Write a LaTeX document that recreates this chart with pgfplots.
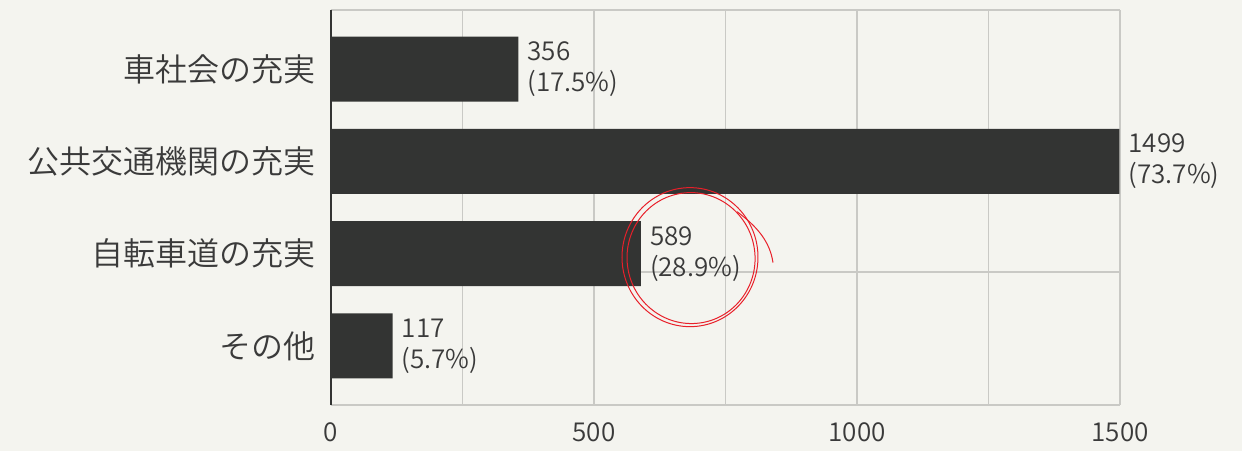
\documentclass[border=0pt]{standalone}
\usepackage{pgfplots}
\pgfplotsset{compat=1.18}
\usepackage{fontspec}
\setmainfont{Noto Sans CJK JP}[UprightFont={* DemiLight}]
\definecolor{bg}{HTML}{F4F4EF}
\definecolor{barc}{HTML}{333433}
\definecolor{gridc}{HTML}{C9C9C5}
\definecolor{txt}{HTML}{3A3A3A}
\definecolor{pen}{HTML}{E8202A}
\begin{document}
\begin{tikzpicture}[x=1pt,y=1pt]
\fill[bg] (0,0) rectangle (1242,451);
\useasboundingbox (0,0) rectangle (1242,451);
\begin{axis}[
  at={(331pt,46pt)}, anchor=south west,
  width=789pt, height=395pt, scale only axis,
  xbar, bar width=65pt,
  xmin=0, xmax=1500, ymin=-0.64, ymax=3.64,
  axis x line*=box, axis y line*=left,
  xtick={0,500,1000,1500}, minor xtick={250,750,1250},
  xmajorgrids, xminorgrids,
  major grid style={gridc, line width=1.3pt},
  minor grid style={gridc, line width=1.3pt},
  ytick={0,1,2,3},
  yticklabels={その他,自転車道の充実,公共交通機関の充実,車社会の充実},
  major tick length=0pt, minor tick length=0pt,
  x axis line style={gridc, line width=1.3pt, -},
  y axis line style={barc, line width=2.4pt, -},
  tick label style={text=txt},
  xticklabel style={font=\fontsize{26}{30}\selectfont, yshift=-14pt},
  yticklabel style={font=\fontsize{32}{36}\selectfont, xshift=-12pt},
  /pgf/number format/assume math mode=true,
  /pgf/number format/1000 sep={},
  extra y ticks={0.8}, extra y tick labels={},
  extra y tick style={grid=major},
  nodes near coords, point meta=explicit symbolic,
  every node near coord/.style={font=\fontsize{26}{31}\selectfont, text=txt, align=left, anchor=west, inner sep=0pt, xshift=9pt},
]
\addplot[fill=barc, draw=none] coordinates {
  (356,3) [356\\(17.5\%)]
  (1499,2) [1499\\(73.7\%)]
  (589,1) [589\\(28.9\%)]
  (117,0) [117\\(5.7\%)]
};
\draw[pen, line width=1pt] (axis cs:682.5,0.962) ellipse [x radius=68pt, y radius=69.5pt];
\draw[pen, line width=1pt, rotate around={8:(axis cs:684.5,0.952)}] (axis cs:684.5,0.952) ellipse [x radius=64pt, y radius=65.5pt];
\draw[pen, line width=1pt, shift={(axis cs:682.5,0.962)}] (47pt,45.5pt) .. controls (68pt,30pt) and (80pt,15pt) .. (83pt,-5.5pt);
\end{axis}
\end{tikzpicture}
\end{document}
